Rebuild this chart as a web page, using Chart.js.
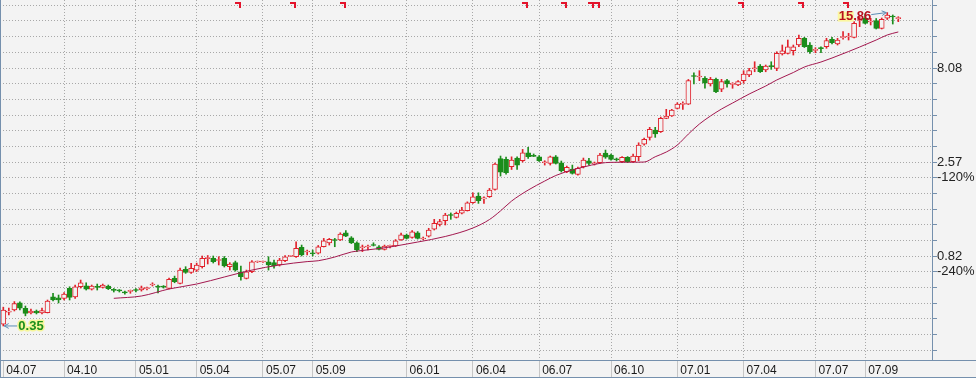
<!DOCTYPE html>
<html>
<head>
<meta charset="utf-8">
<script src="https://cdn.jsdelivr.net/npm/chart.js@4/dist/chart.umd.min.js"></script>
<style>
  html, body { margin: 0; padding: 0; background: #f3f3f3; }
  #kline { display: block; }
</style>
</head>
<body>
<canvas id="kline" width="976" height="378"></canvas>
<script>
// weekly candles, 2004.07 - 2007.09
const opens = [0.358,0.414,0.425,0.464,0.434,0.41,0.42,0.41,0.411,0.499,
  0.493,0.49,0.553,0.499,0.564,0.571,0.547,0.567,0.56,0.569,
  0.545,0.54,0.529,0.533,0.544,0.542,0.551,0.576,0.567,0.567,
  0.553,0.625,0.588,0.697,0.672,0.691,0.72,0.795,0.797,0.776,
  0.797,0.72,0.756,0.677,0.625,0.677,0.762,0.762,0.765,0.756,
  0.735,0.774,0.817,0.813,0.912,0.861,0.851,0.848,0.918,0.963,
  0.999,0.996,1.088,1.024,0.963,0.907,0.915,0.94,0.918,0.889,
  0.922,0.926,0.996,1.057,1.029,1.088,1.008,1.045,1.135,1.206,
  1.26,1.355,1.313,1.379,1.422,1.568,1.70,1.645,1.686,1.845,
  2.685,2.659,2.43,2.701,2.614,2.882,2.778,2.744,2.551,2.533,
  2.744,2.551,2.287,2.363,2.214,2.43,2.614,2.52,2.551,2.87,
  2.802,2.669,2.582,2.723,2.582,2.744,3.202,3.475,3.80,3.722,
  4.38,4.505,4.947,5.19,5.21,7.375,7.24,7.128,6.65,7.042,
  6.237,6.925,6.625,6.572,6.925,7.42,8.01,8.28,7.887,8.30,
  8.05,9.58,9.66,9.97,10.69,11.60,10.69,10.02,10.3,10.47,
  11.46,10.82,11.69,11.79,11.74,14.41,14.80,14.15,14.37,13.10,
  14.80,15.12,14.73];
const highs = [0.44,0.435,0.471,0.47,0.446,0.43,0.425,0.435,0.48,0.521,
  0.51,0.525,0.564,0.576,0.612,0.592,0.576,0.583,0.583,0.576,
  0.552,0.545,0.535,0.542,0.552,0.569,0.562,0.592,0.576,0.572,
  0.627,0.642,0.708,0.72,0.75,0.752,0.82,0.825,0.82,0.813,
  0.815,0.756,0.771,0.726,0.691,0.776,0.771,0.771,0.813,0.781,
  0.797,0.825,0.826,0.975,0.937,0.882,0.882,0.932,1.016,1.016,
  1.016,1.088,1.116,1.038,0.975,0.937,0.937,0.963,0.932,0.937,
  0.937,1.002,1.084,1.071,1.118,1.104,1.033,1.149,1.281,1.281,
  1.379,1.385,1.40,1.482,1.585,1.77,1.77,1.686,1.867,2.542,
  2.768,2.733,2.741,2.741,3.002,3.076,2.839,2.785,2.614,2.768,
  2.785,2.605,2.45,2.48,2.42,2.701,2.691,2.573,2.86,2.977,
  2.839,2.701,2.75,2.75,2.839,3.253,3.445,3.927,3.927,4.45,
  4.888,4.888,5.295,5.36,7.03,7.63,7.82,7.27,7.21,7.15,
  7.042,7.042,6.76,6.94,7.82,8.05,8.72,8.43,8.38,8.72,
  9.85,10.69,11.36,10.69,12.08,11.74,11.0,10.35,10.47,11.60,
  11.74,11.60,12.57,12.33,14.23,15.09,15.6,14.80,14.76,14.85,
  15.86,15.41,15.09];
const lows = [0.35,0.40,0.42,0.425,0.396,0.405,0.405,0.405,0.41,0.474,
  0.463,0.48,0.48,0.49,0.555,0.542,0.542,0.542,0.555,0.545,
  0.529,0.529,0.516,0.521,0.529,0.535,0.542,0.569,0.524,0.555,
  0.549,0.592,0.583,0.664,0.664,0.679,0.708,0.744,0.753,0.735,
  0.717,0.691,0.682,0.612,0.62,0.67,0.758,0.758,0.691,0.708,
  0.726,0.766,0.815,0.805,0.82,0.83,0.82,0.84,0.915,0.937,
  0.918,0.99,1.037,0.954,0.865,0.865,0.882,0.926,0.882,0.882,
  0.904,0.92,0.99,1.008,1.02,1.008,1.0,1.033,1.125,1.181,
  1.196,1.281,1.302,1.367,1.417,1.553,1.556,1.556,1.672,1.829,
  2.17,2.222,2.35,2.35,2.573,2.691,2.75,2.589,2.48,2.48,
  2.511,2.278,2.26,2.222,2.196,2.394,2.48,2.48,2.533,2.691,
  2.636,2.605,2.557,2.557,2.564,2.614,3.164,3.362,3.475,3.687,
  4.36,4.48,4.905,4.888,5.18,6.65,6.925,6.313,6.49,5.99,
  6.058,6.39,6.313,6.52,6.71,7.27,7.72,7.65,7.72,7.95,
  7.82,9.46,9.58,9.46,10.47,10.37,9.66,9.73,9.73,10.27,
  10.82,10.69,11.46,11.36,11.64,13.36,13.8,13.64,12.99,12.99,
  14.58,13.8,14.2];
const closes = [0.425,0.42,0.46,0.434,0.408,0.42,0.41,0.422,0.474,0.48,
  0.48,0.516,0.496,0.564,0.592,0.547,0.569,0.56,0.576,0.551,
  0.54,0.536,0.524,0.539,0.539,0.557,0.555,0.583,0.562,0.562,
  0.617,0.60,0.691,0.672,0.706,0.734,0.797,0.805,0.765,0.784,
  0.726,0.744,0.691,0.637,0.677,0.765,0.766,0.766,0.735,0.726,
  0.781,0.813,0.823,0.90,0.83,0.869,0.843,0.918,0.987,1.004,
  0.99,1.071,1.045,0.963,0.882,0.915,0.922,0.932,0.889,0.926,
  0.929,0.987,1.062,1.016,1.102,1.016,1.02,1.125,1.221,1.245,
  1.35,1.342,1.379,1.434,1.568,1.686,1.606,1.659,1.829,2.511,
  2.278,2.259,2.636,2.48,2.882,2.744,2.757,2.614,2.573,2.744,
  2.533,2.314,2.412,2.243,2.383,2.636,2.533,2.542,2.802,2.733,
  2.659,2.646,2.723,2.582,2.768,3.164,3.391,3.833,3.62,4.38,
  4.505,4.846,5.21,5.228,6.925,7.285,7.30,6.71,7.042,6.058,
  6.84,6.65,6.677,6.84,7.511,7.82,8.08,7.72,8.28,8.21,
  9.66,9.97,10.47,10.47,11.60,10.47,9.85,10.1,10.22,11.27,
  11.0,11.36,11.79,11.89,13.92,14.55,13.92,14.27,13.10,14.62,
  15.41,15.03,14.85];

// moving average at these candle indices
const maIdx = [20,25,30,35,40,45,50,55,57,60,63,65,68,70,72,75,80,85,88,90,
  92,95,98,100,103,105,108,110,113,116,118,120,122,124,126,128,130,132,135,138,
  140,143,145,148,150,153,155,158,160,162];
const maVals = [0.49,0.504,0.549,0.583,0.635,0.691,0.735,0.766,0.774,0.81,
  0.861,0.877,0.898,0.915,0.937,0.972,1.04,1.153,1.278,1.42,
  1.60,1.829,2.042,2.184,2.338,2.42,2.533,2.564,2.567,2.573,
  2.744,2.906,3.164,3.617,4.088,4.505,4.905,5.275,5.885,6.49,
  6.985,7.65,8.18,8.69,9.125,9.875,10.43,11.36,12.08,12.53];

// x axis: first candle of each labelled month
const monthIdx = [0,11,24,35,47,56,73,85,97,110,122,134,147,156];
const monthLabels = ['04.07','04.10','05.01','05.04','05.07','05.09','06.01',
  '06.04','06.07','06.10','07.01','07.04','07.07','07.09'];

// y axis (log): grid values and their labels
const yTicks = [17.33,14.32,11.83,9.78,8.08,6.677,5.518,4.56,3.768,3.114,2.573,2.126,
  1.757,1.452,1.2,0.992,0.82,0.677,0.56,0.4625,0.382,0.316,0.261];
const yLabels = ['','','','','8.08','','','','','','2.57','-120%',
  '','','','','0.82','-240%','','','','',''];

// event flags along the top, by candle index
const flagIdx = [43,53,62,95,102,107,108,134,145,153];

const lowMark = { idx: 0, value: 0.35, label: '0.35' };
const highMark = { idx: 160, value: 15.86, label: '15.86' };

const C = {
  up: '#e1222c', down: '#1b8d1b', bg: '#f3f3f3', grid: '#a8a8a8',
  axis: '#7590ad', ma: '#a3184f', flag: '#e3142c', sep: '#c6c6c6'
};

const idx = opens.map((_, i) => i);
const isUp = opens.map((o, i) => closes[i] >= o);

function drawArrow(ctx, x1, y1, x2, y2) {
  const ang = Math.atan2(y2 - y1, x2 - x1);
  ctx.beginPath();
  ctx.moveTo(x1, y1);
  ctx.lineTo(x2, y2);
  ctx.moveTo(x2 - 5 * Math.cos(ang - 0.5), y2 - 5 * Math.sin(ang - 0.5));
  ctx.lineTo(x2, y2);
  ctx.lineTo(x2 - 5 * Math.cos(ang + 0.5), y2 - 5 * Math.sin(ang + 0.5));
  ctx.stroke();
}

const decor = {
  id: 'decor',
  beforeDraw(chart) {
    const { ctx, width, height } = chart;
    ctx.save();
    ctx.fillStyle = C.bg;
    ctx.fillRect(0, 0, width, height);
    ctx.restore();
  },
  afterDatasetsDraw(chart) {
    const { ctx, chartArea: a, scales: { x, y } } = chart;
    ctx.save();

    // flags
    ctx.fillStyle = C.flag;
    flagIdx.forEach(i => {
      const px = Math.round(x.getPixelForValue(i));
      ctx.fillRect(px - 6, a.top + 2, 6, 2);
      ctx.fillRect(px - 2, a.top + 2, 2, 6);
    });

    // lowest point
    let px = x.getPixelForValue(lowMark.idx);
    let py = y.getPixelForValue(lowMark.value);
    ctx.strokeStyle = '#5b8db5';
    ctx.lineWidth = 1;
    drawArrow(ctx, px + 14, py, px + 1, py);
    ctx.font = 'bold 13px "Liberation Sans", Arial, sans-serif';
    ctx.textBaseline = 'middle';
    ctx.textAlign = 'left';
    ctx.lineJoin = 'round';
    ctx.lineWidth = 3;
    ctx.strokeStyle = '#f6f69a';
    ctx.strokeText(lowMark.label, px + 15, py);
    ctx.fillStyle = '#1d8f1d';
    ctx.fillText(lowMark.label, px + 15, py);

    // highest point
    px = x.getPixelForValue(highMark.idx);
    py = y.getPixelForValue(highMark.value);
    ctx.lineWidth = 1;
    ctx.strokeStyle = '#5b8db5';
    drawArrow(ctx, px - 16, py + 2, px - 1, py);
    const tw = ctx.measureText(highMark.label).width;
    ctx.fillStyle = '#fbf7a0';
    ctx.fillRect(px - 17 - tw, py - 1, 16, 10);
    ctx.textAlign = 'right';
    ctx.fillStyle = '#b8101e';
    ctx.fillText(highMark.label, px - 16, py + 4);
    ctx.restore();
  },
  afterDraw(chart) {
    const { ctx, chartArea: a, scales: { x }, width, height } = chart;
    ctx.save();
    ctx.lineWidth = 1;
    ctx.strokeStyle = C.sep;
    ctx.beginPath();
    monthIdx.forEach(v => {
      const px = Math.round(x.getPixelForValue(v) - 0.5) + 0.5;
      ctx.moveTo(px, a.bottom + 1);
      ctx.lineTo(px, height);
    });
    ctx.stroke();
    ctx.strokeStyle = C.axis;
    ctx.beginPath();
    ctx.moveTo(0, a.bottom + 0.5);
    ctx.lineTo(width, a.bottom + 0.5);
    ctx.moveTo(0.5, 0);
    ctx.lineTo(0.5, height);
    ctx.moveTo(0, height - 0.5);
    ctx.lineTo(width, height - 0.5);
    ctx.stroke();
    ctx.restore();
  }
};

new Chart(document.getElementById('kline'), {
  type: 'bar',
  data: {
    datasets: [
      {
        label: 'wick',
        data: idx.map(i => ({ x: i, y: [lows[i], highs[i]] })),
        backgroundColor: isUp.map(u => (u ? C.up : C.down)),
        borderWidth: 0,
        barThickness: 1,
        grouped: false,
        order: 3
      },
      {
        label: 'body',
        data: idx.map(i => ({ x: i, y: [opens[i], closes[i]] })),
        backgroundColor: isUp.map(u => (u ? C.bg : C.down)),
        borderColor: isUp.map(u => (u ? C.up : C.down)),
        borderWidth: 1,
        borderSkipped: false,
        barThickness: 5,
        minBarLength: 1,
        grouped: false,
        order: 2
      },
      {
        type: 'line',
        label: 'MA',
        data: maIdx.map((v, k) => ({ x: v, y: maVals[k] })),
        borderColor: C.ma,
        borderWidth: 1,
        pointRadius: 0,
        cubicInterpolationMode: 'monotone',
        order: 1
      }
    ]
  },
  options: {
    responsive: false,
    devicePixelRatio: 1,
    animation: false,
    events: [],
    layout: { padding: 0, autoPadding: false },
    plugins: { legend: { display: false }, tooltip: { enabled: false } },
    scales: {
      x: {
        type: 'linear',
        position: 'bottom',
        min: -0.6,
        max: 168.1,
        bounds: 'data',
        offset: false,
        afterBuildTicks: s => { s.ticks = monthIdx.map(v => ({ value: v })); },
        afterFit: s => { s.height = 18; },
        grid: {
          color: ctx => (ctx.index === 0 ? 'rgba(0,0,0,0)' : C.grid),
          drawTicks: false,
          offset: false
        },
        border: { display: false, dash: [1, 2] },
        ticks: {
          autoSkip: false,
          maxRotation: 0,
          minRotation: 0,
          align: 'start',
          labelOffset: 3,
          padding: 3,
          color: '#1a1a1a',
          font: { family: '"Liberation Sans", Arial, sans-serif', size: 12 },
          callback: (v, i) => monthLabels[i]
        }
      },
      y: {
        type: 'logarithmic',
        position: 'right',
        min: 0.2313,
        max: 18.487,
        bounds: 'data',
        afterBuildTicks: s => { s.ticks = yTicks.map(v => ({ value: v })); },
        afterFit: s => { s.width = 44; },
        grid: {
          color: C.grid,
          tickColor: C.axis,
          tickLength: 5,
          tickBorderDash: []
        },
        border: { display: true, color: C.axis, dash: [1, 2] },
        ticks: {
          autoSkip: false,
          padding: 0,
          color: '#222',
          font: { family: '"Liberation Sans", Arial, sans-serif', size: 13, lineHeight: 0 },
          callback: (v, i) => yLabels[i]
        }
      }
    }
  },
  plugins: [decor]
});
</script>
</body>
</html>
